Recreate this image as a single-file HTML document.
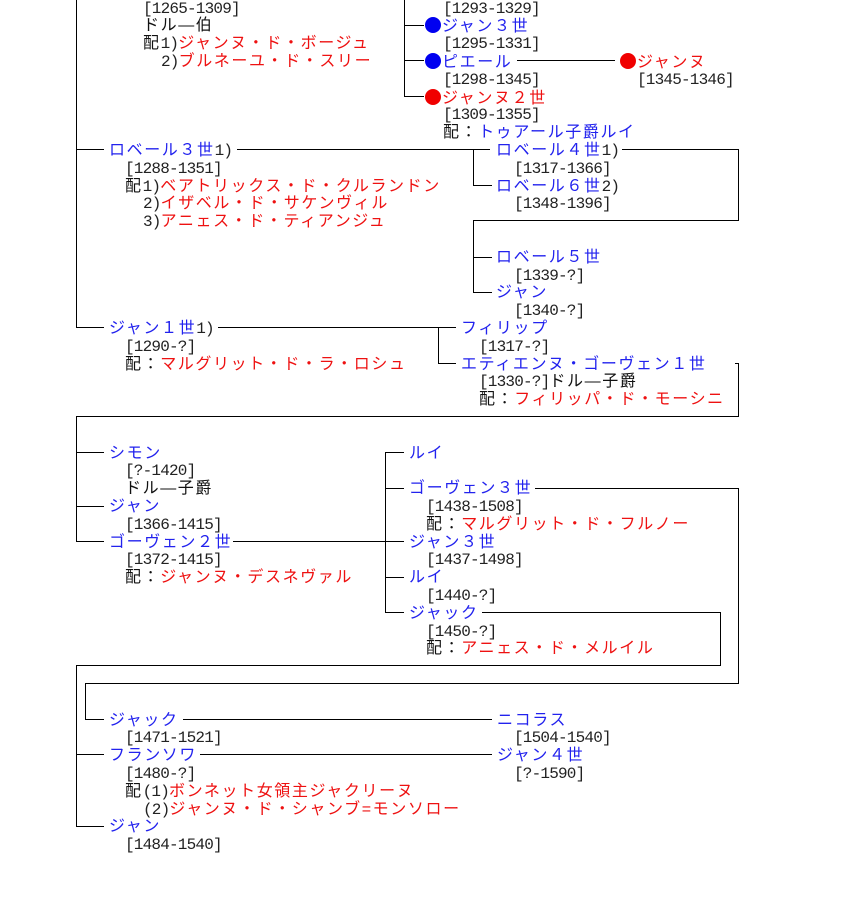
<!DOCTYPE html>
<html><head><meta charset="utf-8">
<style>
html,body{margin:0;padding:0;background:#fff;}
body{width:860px;height:900px;position:relative;overflow:hidden;
font-family:"Liberation Sans","Noto Sans CJK JP",sans-serif;font-size:16px;letter-spacing:1.6px;color:#111;}
.t{position:absolute;white-space:nowrap;line-height:18px;top:calc(17.8px * var(--r) - 0.5px);}
.a{font-family:"Liberation Mono",monospace;letter-spacing:-0.8px;color:#222;}
.b{color:#2222ee;}
.r{color:#ee1111;}
.d{display:inline-block;width:16px;height:16px;border-radius:50%;vertical-align:-2px;margin-right:1px;}
.db{background:#0000f0;}.dr{background:#f00000;}
svg{position:absolute;left:0;top:0;}
</style></head><body>
<svg width="860" height="900" shape-rendering="crispEdges" stroke="#000" stroke-width="1" fill="none">
<path d="M76.5 0V327.5M76 149.5H104M76 327.5H104"/>
<path d="M404.5 0V96.5M404 25.5H424M404 60.5H424M404 96.5H424"/>
<path d="M517 60.5H615"/>
<path d="M237 149.5H490M473.5 149V185.5H492M622 149.5H738.5V220.5H473.5V292.5H492M473 257.5H492"/>
<path d="M218 327.5H456M438.5 327V363.5H456M735 363.5H738.5V416.5H76.5V541.5H104M76 452.5H104M76 506.5H104"/>
<path d="M233 541.5H404M385.5 452V612.5H404M385 452.5H404M385 488.5H404M385 577.5H404"/>
<path d="M535 488.5H738.5V683.5H85.5V719.5H104"/>
<path d="M482 612.5H720.5V665.5H76.5V826.5H104M76 754.5H104"/>
<path d="M183 719.5H492M200 754.5H492"/>
</svg>

<div class="t a" style="--r:0;left:143px">[1265-1309]</div>
<div class="t" style="--r:1;left:143px">ドル―伯</div>
<div class="t" style="--r:2;left:143px">配<span class="a">1)</span><span class="r">ジャンヌ・ド・ボージュ</span></div>
<div class="t" style="--r:3;left:161px"><span class="a">2)</span><span class="r">ブルネーユ・ド・スリー</span></div>

<div class="t a" style="--r:0;left:443px">[1293-1329]</div>
<div class="t b" style="--r:1;left:425px"><span class="d db"></span>ジャン３世</div>
<div class="t a" style="--r:2;left:443px">[1295-1331]</div>
<div class="t b" style="--r:3;left:425px"><span class="d db"></span>ピエール</div>
<div class="t a" style="--r:4;left:443px">[1298-1345]</div>
<div class="t r" style="--r:5;left:425px"><span class="d dr"></span>ジャンヌ２世</div>
<div class="t a" style="--r:6;left:443px">[1309-1355]</div>
<div class="t" style="--r:7;left:443px">配：<span class="b">トゥアール子爵ルイ</span></div>
<div class="t r" style="--r:3;left:620px"><span class="d dr"></span>ジャンヌ</div>
<div class="t a" style="--r:4;left:637px">[1345-1346]</div>

<div class="t" style="--r:8;left:109px"><span class="b">ロベール３世</span><span class="a">1)</span></div>
<div class="t a" style="--r:9;left:125px">[1288-1351]</div>
<div class="t" style="--r:10;left:125px">配<span class="a">1)</span><span class="r">ベアトリックス・ド・クルランドン</span></div>
<div class="t" style="--r:11;left:143px"><span class="a">2)</span><span class="r">イザベル・ド・サケンヴィル</span></div>
<div class="t" style="--r:12;left:143px"><span class="a">3)</span><span class="r">アニェス・ド・ティアンジュ</span></div>

<div class="t" style="--r:8;left:496px"><span class="b">ロベール４世</span><span class="a">1)</span></div>
<div class="t a" style="--r:9;left:514px">[1317-1366]</div>
<div class="t" style="--r:10;left:496px"><span class="b">ロベール６世</span><span class="a">2)</span></div>
<div class="t a" style="--r:11;left:514px">[1348-1396]</div>
<div class="t b" style="--r:14;left:496px">ロベール５世</div>
<div class="t a" style="--r:15;left:514px">[1339-?]</div>
<div class="t b" style="--r:16;left:496px">ジャン</div>
<div class="t a" style="--r:17;left:514px">[1340-?]</div>

<div class="t" style="--r:18;left:109px"><span class="b">ジャン１世</span><span class="a">1)</span></div>
<div class="t a" style="--r:19;left:125px">[1290-?]</div>
<div class="t" style="--r:20;left:125px">配：<span class="r">マルグリット・ド・ラ・ロシュ</span></div>

<div class="t b" style="--r:18;left:461px">フィリップ</div>
<div class="t a" style="--r:19;left:479px">[1317-?]</div>
<div class="t b" style="--r:20;left:461px">エティエンヌ・ゴーヴェン１世</div>
<div class="t" style="--r:21;left:479px"><span class="a">[1330-?]</span>ドル―子爵</div>
<div class="t" style="--r:22;left:479px">配：<span class="r">フィリッパ・ド・モーシニ</span></div>

<div class="t b" style="--r:25;left:109px">シモン</div>
<div class="t a" style="--r:26;left:125px">[?-1420]</div>
<div class="t" style="--r:27;left:125px">ドル―子爵</div>
<div class="t b" style="--r:28;left:109px">ジャン</div>
<div class="t a" style="--r:29;left:125px">[1366-1415]</div>
<div class="t b" style="--r:30;left:109px">ゴーヴェン２世</div>
<div class="t a" style="--r:31;left:125px">[1372-1415]</div>
<div class="t" style="--r:32;left:125px">配：<span class="r">ジャンヌ・デスネヴァル</span></div>

<div class="t b" style="--r:25;left:409px">ルイ</div>
<div class="t b" style="--r:27;left:409px">ゴーヴェン３世</div>
<div class="t a" style="--r:28;left:426px">[1438-1508]</div>
<div class="t" style="--r:29;left:426px">配：<span class="r">マルグリット・ド・フルノー</span></div>
<div class="t b" style="--r:30;left:409px">ジャン３世</div>
<div class="t a" style="--r:31;left:426px">[1437-1498]</div>
<div class="t b" style="--r:32;left:409px">ルイ</div>
<div class="t a" style="--r:33;left:426px">[1440-?]</div>
<div class="t b" style="--r:34;left:409px">ジャック</div>
<div class="t a" style="--r:35;left:426px">[1450-?]</div>
<div class="t" style="--r:36;left:426px">配：<span class="r">アニェス・ド・メルイル</span></div>

<div class="t b" style="--r:40;left:109px">ジャック</div>
<div class="t a" style="--r:41;left:125px">[1471-1521]</div>
<div class="t b" style="--r:42;left:109px">フランソワ</div>
<div class="t a" style="--r:43;left:125px">[1480-?]</div>
<div class="t" style="--r:44;left:125px">配<span class="a">(1)</span><span class="r">ボンネット女領主ジャクリーヌ</span></div>
<div class="t" style="--r:45;left:143px"><span class="a">(2)</span><span class="r">ジャンヌ・ド・シャンブ=モンソロー</span></div>
<div class="t b" style="--r:46;left:109px">ジャン</div>
<div class="t a" style="--r:47;left:125px">[1484-1540]</div>

<div class="t b" style="--r:40;left:497px">ニコラス</div>
<div class="t a" style="--r:41;left:514px">[1504-1540]</div>
<div class="t b" style="--r:42;left:497px">ジャン４世</div>
<div class="t a" style="--r:43;left:514px">[?-1590]</div>
</body></html>
